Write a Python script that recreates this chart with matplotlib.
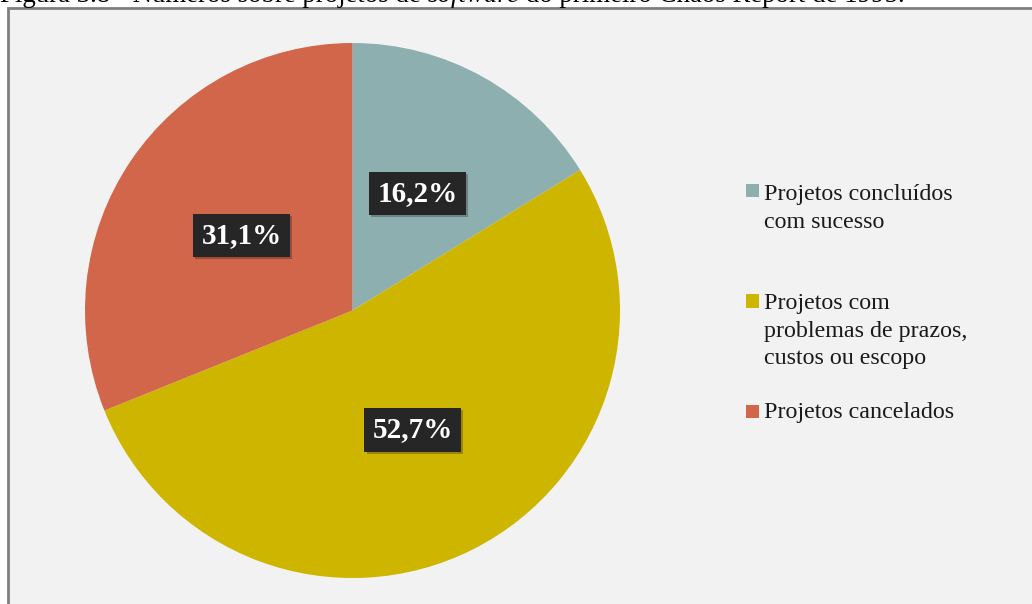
import matplotlib
matplotlib.use("Agg")
import matplotlib.pyplot as plt
from matplotlib.patches import Rectangle
import matplotlib.patheffects as pe

# Data
categories = ["Projetos concluídos\ncom sucesso",
              "Projetos com\nproblemas de prazos,\ncustos ou escopo",
              "Projetos cancelados"]
values = [16.2, 52.7, 31.1]
colors = ["#8DAFB0", "#CDB500", "#D2664B"]
caption_parts = ["Figura 3.8 - Números sobre projetos de ", "software",
                 " do primeiro Chaos Report de 1995."]

W, H = 1032, 604
fig = plt.figure(figsize=(W / 100, H / 100), dpi=100)
fig.patch.set_facecolor("white")

SERIF = ["Liberation Serif", "DejaVu Serif"]

def fx(px):
    return px / W

def fy(py):
    return 1 - py / H

# frame
frame = Rectangle((fx(7.5), fy(700)), fx(1100), fy(7.5) - fy(700),
                  transform=fig.transFigure, facecolor="#F2F2F2",
                  edgecolor="#7F7F7F", linewidth=2.0, zorder=-5)
fig.patches.append(frame)

# caption (cut at the top, as in the reference)
renderer = fig.canvas.get_renderer()
x = 0.0
for i, part in enumerate(caption_parts):
    t = fig.text(fx(x), fy(1.5), part, family=SERIF, fontsize=19.4,
                 style="italic" if i == 1 else "normal",
                 va="baseline", ha="left", color="black")
    bb = t.get_window_extent(renderer=renderer)
    x += bb.width

# pie
cx, cy, r = 352.5, 310.5, 267.5
ax = fig.add_axes([fx(cx - r), fy(cy + r), fx(2 * r), (2 * r) / H])
ax.set_zorder(2)
ax.set_facecolor("none")
wedges, texts, autotexts = ax.pie(
    values, colors=colors, startangle=90, counterclock=False,
    radius=1.0, pctdistance=0.5,
    autopct=lambda p: f"{p:.1f}%".replace(".", ","),
    wedgeprops=dict(linewidth=0),
    textprops=dict(family=SERIF, fontsize=21, fontweight="bold", color="white"))
for t in autotexts:
    t.set_bbox(dict(boxstyle="square,pad=0.28", facecolor="#262626",
                    edgecolor="none"))
    t.get_bbox_patch().set_path_effects(
        [pe.SimplePatchShadow(offset=(1.5, -1.5), shadow_rgbFace="black",
                              alpha=0.25),
         pe.Normal()])
ax.set_xlim(-1, 1)
ax.set_ylim(-1, 1)
ax.set_aspect("equal")
ax.axis("off")

# legend (manual, to keep the square beside the first line)
square_centers = [190.5, 301.0, 411.5]
first_baselines = [200.0, 309.0, 418.0]
line_step = 27.5
for lab, col, sc, bl in zip(categories, colors, square_centers, first_baselines):
    fig.patches.append(Rectangle((fx(746), fy(sc + 6.5)), fx(12.5), 13 / H,
                                 transform=fig.transFigure, facecolor=col,
                                 edgecolor="none"))
    for k, line in enumerate(lab.split("\n")):
        fig.text(fx(763.5), fy(bl + k * line_step), line, family=SERIF,
                 fontsize=17.3, va="baseline", ha="left", color="#1A1A1A")

fig.savefig("out.png", dpi=100)
